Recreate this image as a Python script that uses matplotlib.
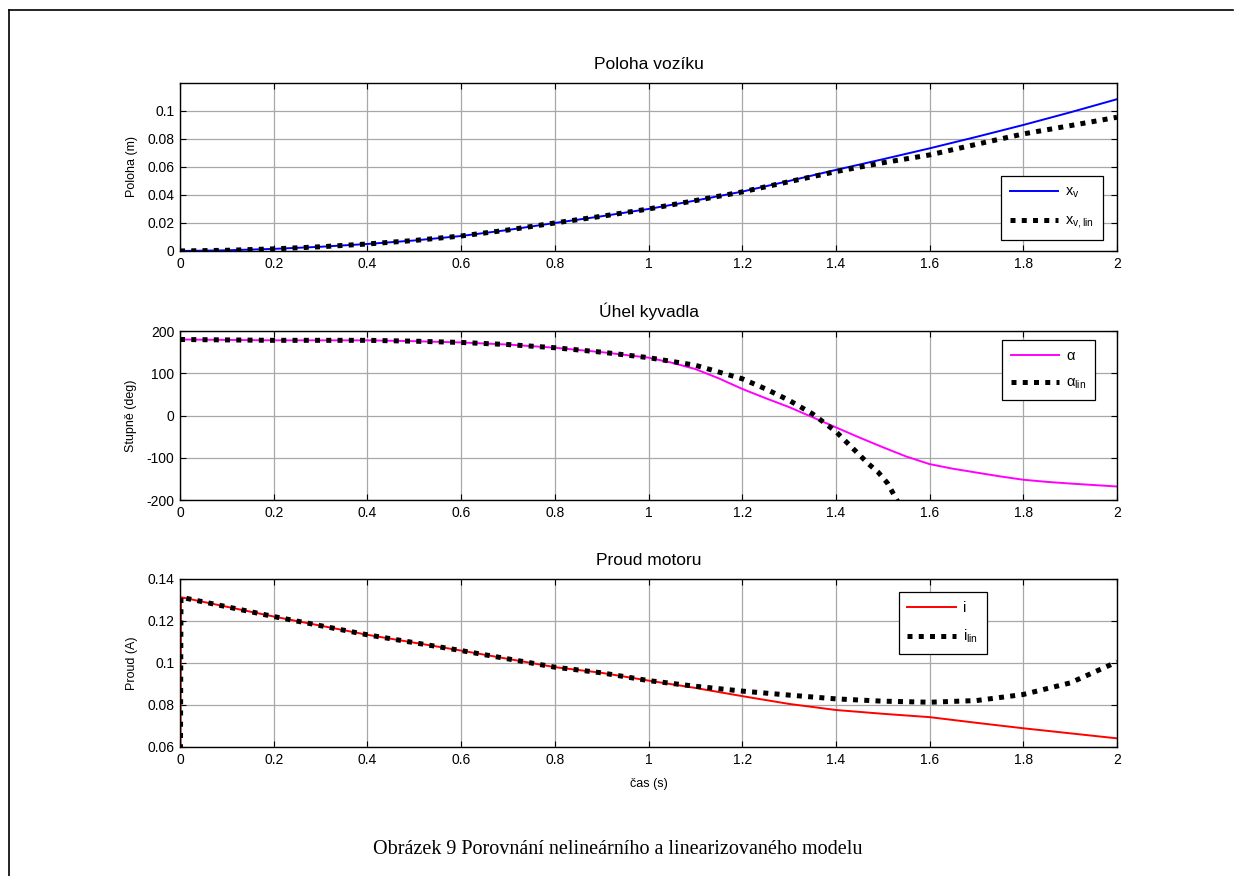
import matplotlib.pyplot as plt
from matplotlib.lines import Line2D

plt.rcParams['font.family'] = ['Liberation Sans', 'DejaVu Sans']
plt.rcParams['mathtext.fontset'] = 'custom'
plt.rcParams['mathtext.rm'] = 'Liberation Sans'

# time samples
t = [0, 0.1, 0.2, 0.3, 0.4, 0.5, 0.6, 0.7, 0.8, 0.9, 1.0,
     1.1, 1.2, 1.3, 1.4, 1.5, 1.6, 1.7, 1.8, 1.9, 2.0]

# cart position (m)
xv = [0, 0.0005, 0.0015, 0.003, 0.005, 0.0075, 0.0107, 0.015, 0.020, 0.0248, 0.030,
      0.036, 0.0424, 0.050, 0.0579, 0.0655, 0.0733, 0.0815, 0.090, 0.099, 0.1084]
xv_lin = [0, 0.0005, 0.0015, 0.003, 0.005, 0.0075, 0.0107, 0.015, 0.020, 0.0248, 0.030,
          0.036, 0.0422, 0.0495, 0.0567, 0.063, 0.0686, 0.0762, 0.0836, 0.0895, 0.0955]

# pendulum angle (deg)
t_a = [0, 0.1, 0.2, 0.3, 0.4, 0.5, 0.6, 0.7, 0.8, 0.9, 1.0, 1.05,
       1.1, 1.15, 1.2, 1.25, 1.3, 1.35, 1.4, 1.45, 1.5, 1.55,
       1.6, 1.65, 1.7, 1.75, 1.8, 1.85, 1.9, 2.0]
alpha = [180, 179, 178, 178, 178, 176, 173, 168, 160.5, 150, 137, 125,
         110, 88, 63, 41, 20, -4, -28, -52, -75, -97,
         -115, -126, -135, -144, -152, -157, -161, -168]
t_alin = [0, 0.1, 0.2, 0.3, 0.4, 0.5, 0.6, 0.7, 0.8, 0.9, 1.0,
          1.1, 1.2, 1.25, 1.3, 1.35, 1.4, 1.45, 1.47, 1.49, 1.51, 1.53, 1.55]
alpha_lin = [180, 179, 178, 178, 178, 176, 173, 168, 160.5, 150, 137,
             119, 87, 63, 36, 4, -38, -93, -115, -134, -160, -200, -240]

# motor current (A)
t_i = [0, 0.002, 0.2, 0.4, 0.6, 0.8, 0.9, 1.0,
       1.1, 1.2, 1.3, 1.4, 1.5, 1.6, 1.7, 1.8, 1.9, 2.0]
cur = [0, 0.1313, 0.1221, 0.1134, 0.1059, 0.098, 0.0953, 0.0916,
       0.0881, 0.0842, 0.0805, 0.0776, 0.0758, 0.0742, 0.0715, 0.0689, 0.0665, 0.0641]
cur_lin = [0, 0.1313, 0.1221, 0.1134, 0.1059, 0.098, 0.0953, 0.0916,
           0.0889, 0.0866, 0.0847, 0.0829, 0.0818, 0.0813, 0.0821, 0.085, 0.0905, 0.1005]

xticks = [0, 0.2, 0.4, 0.6, 0.8, 1, 1.2, 1.4, 1.6, 1.8, 2]
xticklabels = ['0', '0.2', '0.4', '0.6', '0.8', '1', '1.2', '1.4', '1.6', '1.8', '2']

fig = plt.figure(figsize=(12.34, 8.76), dpi=100)

dots = (0, (1, 1.25))


def style(ax, ylim, yticks, yticklabels, title, ylabel):
    ax.set_xlim(0, 2)
    ax.set_ylim(*ylim)
    ax.set_xticks(xticks)
    ax.set_xticklabels(xticklabels)
    ax.set_yticks(yticks)
    ax.set_yticklabels(yticklabels)
    ax.grid(True, color='#a8a8a8', lw=0.9)
    ax.set_axisbelow(True)
    ax.tick_params(direction='in', top=True, right=True, length=4, width=0.8,
                   labelsize=10, pad=4)
    for s in ax.spines.values():
        s.set_linewidth(1.0)
    ax.set_title(title, fontsize=12.5, pad=10)
    ax.set_ylabel(ylabel, fontsize=9, labelpad=7)


def add_legend(ax, anchor):
    leg = ax.legend(loc='upper left', bbox_to_anchor=anchor, borderaxespad=0,
                    fancybox=False, edgecolor='black', framealpha=1, fontsize=10.5,
                    handlelength=3.3, handletextpad=0.5, borderpad=0.6,
                    labelspacing=0.9)
    leg.get_frame().set_linewidth(0.9)


ax1 = fig.add_axes([0.1459, 0.7135, 0.7593, 0.1918])
ax1.plot(t, xv, color='#0000ff', lw=1.4, label=r'x$_\mathregular{v}$')
ax1.plot(t, xv_lin, color='black', lw=3.6, ls=dots, label=r'x$_\mathregular{v,lin}$')
style(ax1, (0, 0.12), [0, 0.02, 0.04, 0.06, 0.08, 0.1],
      ['0', '0.02', '0.04', '0.06', '0.08', '0.1'], 'Poloha vozíku', 'Poloha (m)')
add_legend(ax1, (0.876, 0.446))

ax2 = fig.add_axes([0.1459, 0.4292, 0.7593, 0.1929])
ax2.plot(t_a, alpha, color='#ff00ff', lw=1.4, label=r'$\mathregular{\alpha}$')
ax2.plot(t_alin, alpha_lin, color='black', lw=3.6, ls=dots,
         label=r'$\mathregular{\alpha_{lin}}$')
style(ax2, (-200, 200), [-200, -100, 0, 100, 200],
      ['-200', '-100', '0', '100', '200'], 'Úhel kyvadla', 'Stupně (deg)')
add_legend(ax2, (0.877, 0.947))

ax3 = fig.add_axes([0.1459, 0.1473, 0.7593, 0.1918])
ax3.plot(t_i, cur, color='#ff0000', lw=1.4, label='i')
ax3.plot(t_i, cur_lin, color='black', lw=3.6, ls=dots,
         label=r'i$_\mathregular{lin}$')
style(ax3, (0.06, 0.14), [0.06, 0.08, 0.1, 0.12, 0.14],
      ['0.06', '0.08', '0.1', '0.12', '0.14'], 'Proud motoru', 'Proud (A)')
ax3.set_xlabel('čas (s)', fontsize=9, labelpad=8)
add_legend(ax3, (0.767, 0.923))

# page frame lines and caption
fig.add_artist(Line2D([9 / 1234, 9 / 1234], [0, 1 - 10 / 876], color='black', lw=1.2))
fig.add_artist(Line2D([9 / 1234, 1233 / 1234], [1 - 10 / 876, 1 - 10 / 876],
                      color='black', lw=1.2))
fig.text(618 / 1234, 1 - 849 / 876, 'Obrázek 9 Porovnání nelineárního a linearizovaného modelu',
         family=['Liberation Serif', 'DejaVu Serif'], fontsize=14.5, ha='center', va='center')

fig.savefig('out.png', dpi=100)
